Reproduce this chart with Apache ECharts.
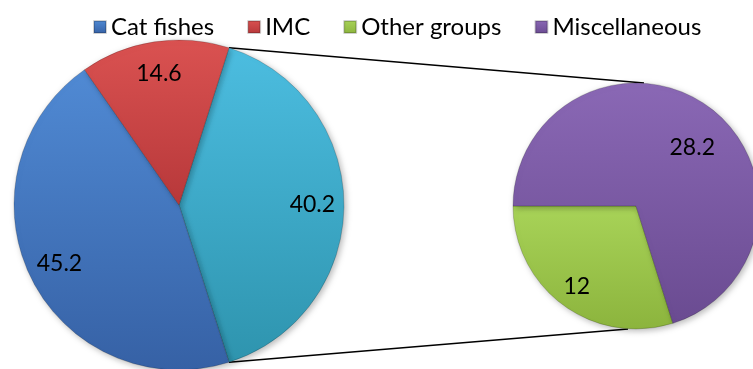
<!DOCTYPE html>
<html>
<head>
<meta charset="utf-8">
<script src="https://cdn.jsdelivr.net/npm/echarts@6/dist/echarts.min.js"></script>
<style>
  html, body { margin: 0; padding: 0; background: #ffffff; }
  #chart { width: 753px; height: 369px; }
</style>
</head>
<body>
<div id="chart"></div>
<script>
// Fish catch composition (%): main pie, with the combined "others" slice broken out in a second pie
const mainCategories = ['Cat fishes', 'IMC'];
const mainValues = [45.2, 14.6];
const subCategories = ['Other groups', 'Miscellaneous'];
const subValues = [12, 28.2];
const legendItems = ['Cat fishes', 'IMC', 'Other groups', 'Miscellaneous'];

const FONT = 'Lato, "Noto Sans", sans-serif';

// Layout of the two pies (pixels)
const pieA = { cx: 179, cy: 205, r: 165 };
const pieB = { cx: 636, cy: 206, r: 123 };

const splitValue = Math.round(subValues.reduce((s, v) => s + v, 0) * 10) / 10;
const mainTotal = mainValues.reduce((s, v) => s + v, 0) + splitValue;
const halfSplitAngle = splitValue / mainTotal * 180;   // degrees either side of 3 o'clock

function shade(top, bottom) {
  return { type: 'linear', x: 0, y: 0, x2: 0, y2: 1,
           colorStops: [{ offset: 0, color: top }, { offset: 1, color: bottom }] };
}
const fills = {
  'Cat fishes':    shade('#508ad4', '#3661a5'),
  'IMC':           shade('#da5251', '#b7383a'),
  'Other':         shade('#4cbde0', '#2e94ae'),
  'Other groups':  shade('#a8d358', '#8cb43d'),
  'Miscellaneous': shade('#8a68b5', '#6a4b91')
};
// nudges for labels that sit off the mid-angle
const labelNudge = { 'Miscellaneous': [-3, 22] };

// main pie, clockwise from the top edge of the split slice
const mainData = [{ name: 'Other', value: splitValue }]
  .concat(mainCategories.map((n, i) => ({ name: n, value: mainValues[i] })))
  .map(d => Object.assign(d, { itemStyle: { color: fills[d.name] } }));

// secondary pie, counter-clockwise from 9 o'clock
const subData = subCategories.map((n, i) => ({
  name: n, value: subValues[i], itemStyle: { color: fills[n] }
}));

const sliceStyle = {
  borderColor: 'rgba(0,0,0,0.18)', borderWidth: 1,
  shadowBlur: 6, shadowColor: 'rgba(0,0,0,0.28)', shadowOffsetX: 2, shadowOffsetY: 2
};
const valueLabel = {
  show: true, position: 'inside', color: '#000', fontFamily: FONT, fontSize: 23,
  formatter: p => String(p.value)
};

function pieSeries(p, data, start, clockwise) {
  return [{
    type: 'pie', center: [p.cx, p.cy], radius: [0, p.r], startAngle: start, clockwise: clockwise,
    animation: false, silent: true, z: 2, label: { show: false }, labelLine: { show: false },
    itemStyle: sliceStyle, data: data
  }, {
    // transparent ring carrying the value labels toward the rim
    type: 'pie', center: [p.cx, p.cy], radius: [p.r * 0.58, p.r], startAngle: start, clockwise: clockwise,
    animation: false, silent: true, z: 3, legendHoverLink: false,
    itemStyle: { color: 'rgba(0,0,0,0)', borderWidth: 0 }, label: valueLabel, labelLine: { show: false },
    data: data.map(d => ({
      name: d.name, value: d.value, itemStyle: { color: 'rgba(0,0,0,0)' },
      label: labelNudge[d.name] ? { offset: labelNudge[d.name] } : {}
    }))
  }];
}

// connector lines from the split slice edges to the top and bottom of the second pie
const rad = halfSplitAngle * Math.PI / 180;
const connectors = [
  [pieA.cx + pieA.r * Math.cos(rad), pieA.cy - pieA.r * Math.sin(rad), pieB.cx + 8, pieB.cy - pieB.r],
  [pieA.cx + pieA.r * Math.cos(rad), pieA.cy + pieA.r * Math.sin(rad), pieB.cx - 8, pieB.cy + pieB.r]
].map(c => ({
  type: 'line', z: 0, silent: true,
  shape: { x1: c[0], y1: c[1], x2: c[2], y2: c[3] },
  style: { stroke: '#000', lineWidth: 1.5 }
}));

const chart = echarts.init(document.getElementById('chart'), null, { renderer: 'canvas' });
chart.setOption({
  backgroundColor: '#ffffff',
  animation: false,
  legend: {
    data: legendItems, top: 10, left: 88, itemWidth: 12, itemHeight: 12, itemGap: 33,
    icon: 'rect', selectedMode: false,
    textStyle: { fontFamily: FONT, fontSize: 24, color: '#000' }
  },
  graphic: connectors,
  series: [].concat(
    pieSeries(pieA, mainData, halfSplitAngle, true),
    pieSeries(pieB, subData, 180, false)
  )
});
</script>
</body>
</html>
